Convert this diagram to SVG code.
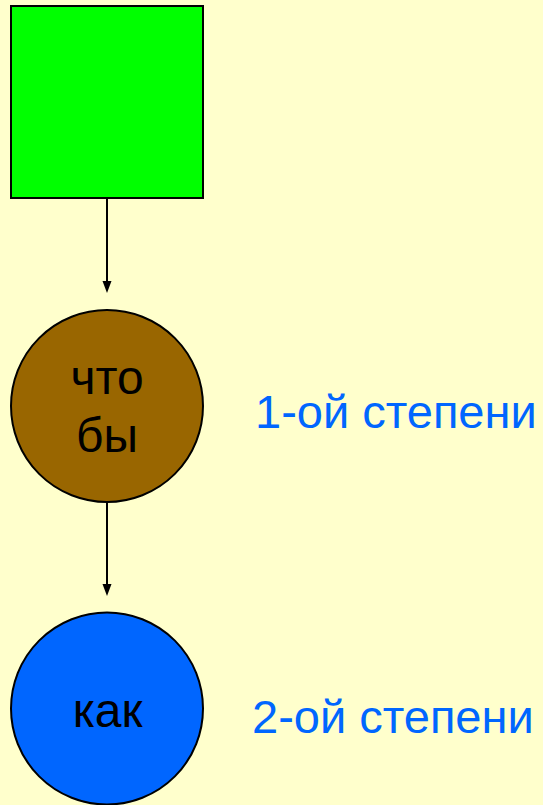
<svg xmlns="http://www.w3.org/2000/svg" width="543" height="805" viewBox="0 0 543 805">
<defs>
<style>
.node{stroke:#000;stroke-width:2}
.lbl{font-family:"Liberation Sans",Arial,sans-serif;font-size:48px;text-anchor:middle;fill:#000}
.side{font-family:"Liberation Sans",Arial,sans-serif;font-size:47px;fill:#0066FF}
.edge{stroke:#000;stroke-width:2;fill:none}
</style>
</defs>
<rect x="0" y="0" width="543" height="805" fill="#FFFFCC"/>
<g id="connectors">
<path class="edge" d="M107,198 L107,281"/>
<path d="M102.5,281 L111.5,281 L107,293 Z" fill="#000"/>
<path class="edge" d="M107,502 L107,584"/>
<path d="M102.5,584 L111.5,584 L107,596 Z" fill="#000"/>
</g>
<g id="square">
<rect class="node" x="11" y="6" width="192" height="192" fill="#00FF00"/>
</g>
<g id="chtoby">
<circle class="node" cx="107" cy="406" r="96" fill="#996600"/>
<text class="lbl" x="107" y="394">что</text>
<text class="lbl" x="107" y="452">бы</text>
</g>
<g id="kak">
<circle class="node" cx="107" cy="708.5" r="96" fill="#0066FF"/>
<text class="lbl" x="107.5" y="727">как</text>
</g>
<g id="labels">
<text class="side" x="255" y="428">1-ой степени</text>
<text class="side" x="252" y="733">2-ой степени</text>
</g>
</svg>
